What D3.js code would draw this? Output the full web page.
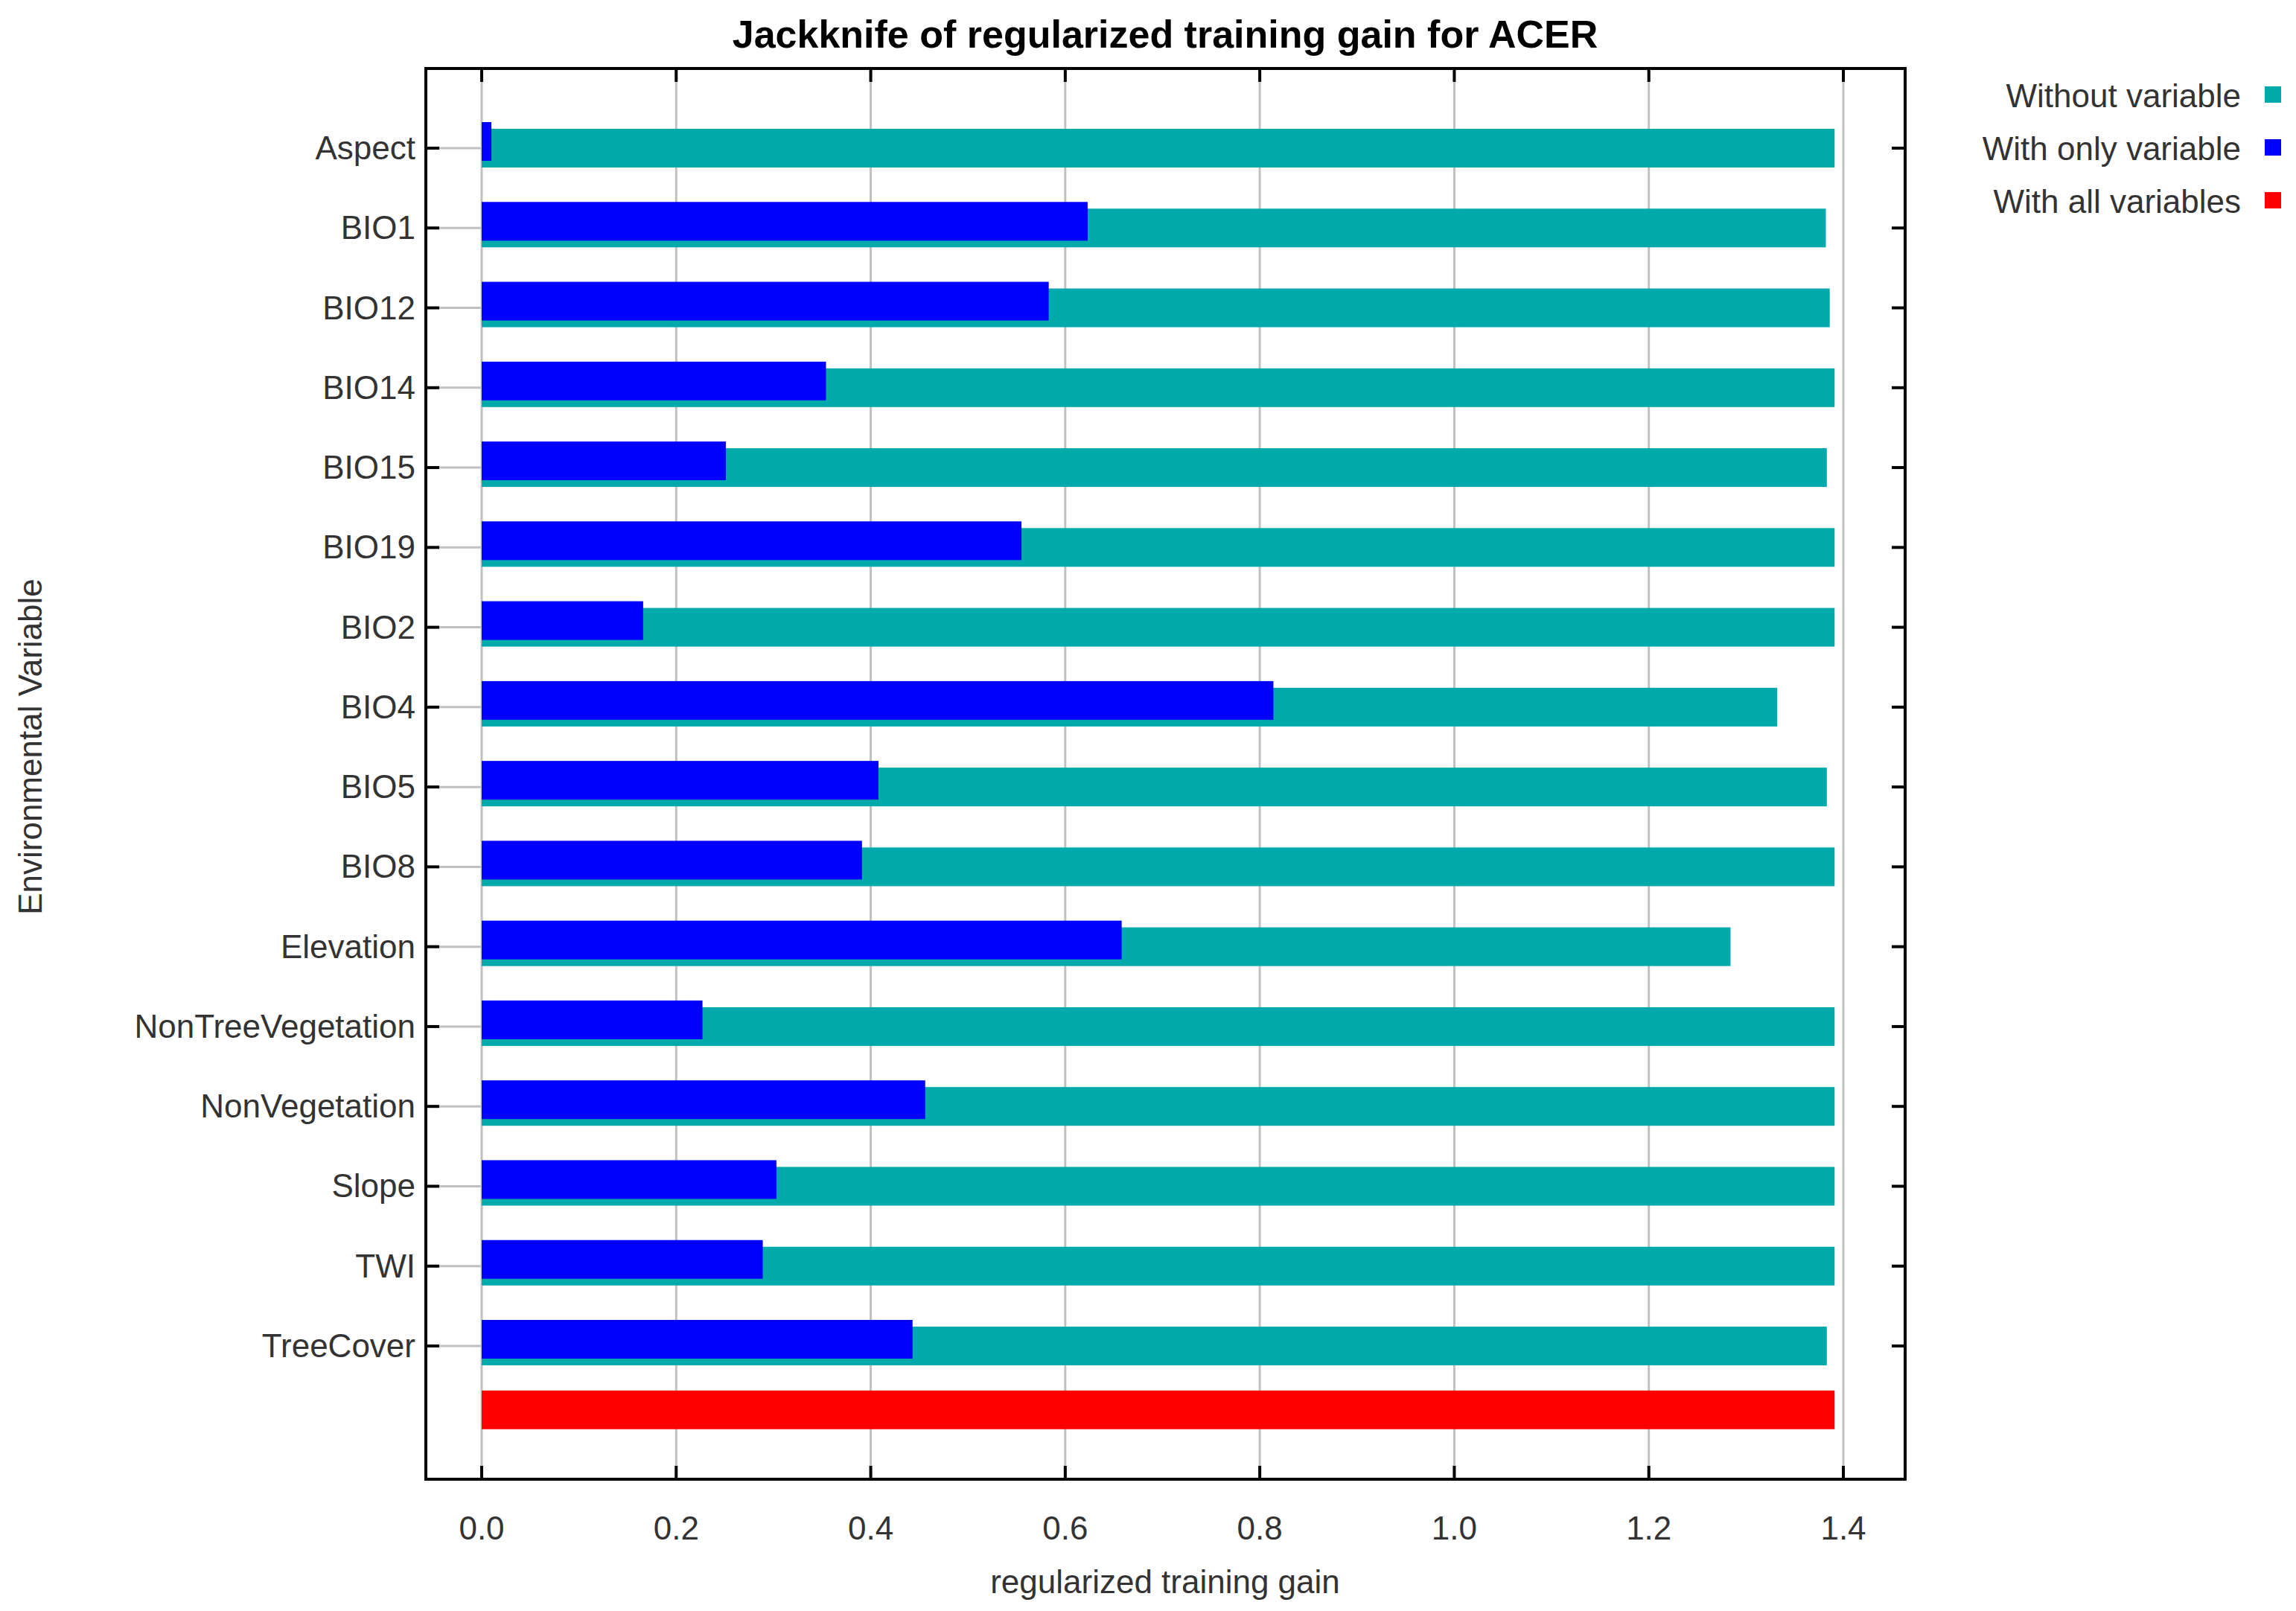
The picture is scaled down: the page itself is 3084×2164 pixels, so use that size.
<!DOCTYPE html>
<html>
<head>
<meta charset="utf-8">
<script src="https://cdn.jsdelivr.net/npm/d3@7"></script>
<style>
  body { margin: 0; background: #fff; }
  text { font-family: "Liberation Sans", Arial, sans-serif; }
</style>
</head>
<body>
<script>
// variables, top to bottom
const variables = ["Aspect", "BIO1", "BIO12", "BIO14", "BIO15", "BIO19", "BIO2", "BIO4",
    "BIO5", "BIO8", "Elevation", "NonTreeVegetation", "NonVegetation", "Slope", "TWI", "TreeCover"];
const withoutVariable = [1.391, 1.382, 1.386, 1.391, 1.383, 1.391, 1.391, 1.332,
    1.383, 1.391, 1.284, 1.391, 1.391, 1.391, 1.391, 1.383];
const withOnlyVariable = [0.010, 0.623, 0.583, 0.354, 0.251, 0.555, 0.166, 0.814,
    0.408, 0.391, 0.658, 0.227, 0.456, 0.303, 0.289, 0.443];
const withAllVariables = 1.391;
const xTicks = [0, 0.2, 0.4, 0.6, 0.8, 1.0, 1.2, 1.4];
const legendLabels = ["Without variable", "With only variable", "With all variables"];
const colors = ["#00aaaa", "#0000ff", "#ff0000"];

const width = 3084, height = 2164;
const frame = {left: 572, right: 2559, top: 92, bottom: 1987};

const svg = d3.select("body").append("svg")
    .attr("width", width).attr("height", height);

const x = d3.scaleLinear().domain([0, 1.4]).range([647, 2476]);
const y = d3.scalePoint().domain(variables).range([199, 1808]);
const step = y.step();
const barH = 52;

// grid lines
svg.append("g").selectAll("line").data(xTicks).join("line")
    .attr("x1", d => x(d)).attr("x2", d => x(d))
    .attr("y1", frame.top).attr("y2", frame.bottom)
    .attr("stroke", "#c0c0c0").attr("stroke-width", 3);
// gray lines from left/right frame to plot area
svg.append("g").selectAll("line").data(variables).join("line")
    .attr("x1", frame.left).attr("x2", x(0))
    .attr("y1", d => y(d)).attr("y2", d => y(d))
    .attr("stroke", "#c0c0c0").attr("stroke-width", 3);

// bars
svg.append("g").selectAll("rect").data(variables).join("rect")
    .attr("x", x(0)).attr("y", d => y(d) - barH / 2)
    .attr("width", (d, i) => x(withoutVariable[i]) - x(0)).attr("height", barH)
    .attr("fill", colors[0]);
svg.append("g").selectAll("rect").data(variables).join("rect")
    .attr("x", x(0)).attr("y", d => y(d) - barH / 2 - 9)
    .attr("width", (d, i) => x(withOnlyVariable[i]) - x(0)).attr("height", barH)
    .attr("fill", colors[1]);
svg.append("rect")
    .attr("x", x(0)).attr("y", y(variables[variables.length - 1]) + step * 0.8 - barH / 2)
    .attr("width", x(withAllVariables) - x(0)).attr("height", barH)
    .attr("fill", colors[2]);

// frame
svg.append("rect")
    .attr("x", frame.left).attr("y", frame.top)
    .attr("width", frame.right - frame.left).attr("height", frame.bottom - frame.top)
    .attr("fill", "none").attr("stroke", "#000").attr("stroke-width", 4);

// ticks
const tk = 18;
const tg = svg.append("g").attr("stroke", "#000").attr("stroke-width", 4);
tg.selectAll(".xb").data(xTicks).join("line")
    .attr("x1", d => x(d)).attr("x2", d => x(d)).attr("y1", frame.bottom).attr("y2", frame.bottom - tk);
tg.selectAll(".xt").data(xTicks).join("line")
    .attr("x1", d => x(d)).attr("x2", d => x(d)).attr("y1", frame.top).attr("y2", frame.top + tk);
tg.selectAll(".yl").data(variables).join("line")
    .attr("x1", frame.left).attr("x2", frame.left + tk).attr("y1", d => y(d)).attr("y2", d => y(d));
tg.selectAll(".yr").data(variables).join("line")
    .attr("x1", frame.right).attr("x2", frame.right - tk).attr("y1", d => y(d)).attr("y2", d => y(d));

// tick labels
svg.append("g").selectAll("text").data(xTicks).join("text")
    .attr("x", d => x(d)).attr("y", 2068)
    .attr("text-anchor", "middle").attr("font-size", 44).attr("fill", "#333")
    .text(d => d.toFixed(1));
svg.append("g").selectAll("text").data(variables).join("text")
    .attr("x", 558).attr("y", d => y(d) + 15)
    .attr("text-anchor", "end").attr("font-size", 44).attr("fill", "#333")
    .text(d => d);

// axis titles
svg.append("text").attr("x", 1565).attr("y", 2140).attr("text-anchor", "middle")
    .attr("font-size", 44).attr("fill", "#333").text("regularized training gain");
svg.append("text").attr("transform", "translate(56,1003) rotate(-90)")
    .attr("text-anchor", "middle").attr("font-size", 44).attr("fill", "#333")
    .text("Environmental Variable");
svg.append("text").attr("x", 1565).attr("y", 64).attr("text-anchor", "middle")
    .attr("font-size", 52).attr("font-weight", "bold").text("Jackknife of regularized training gain for ACER");

// legend
const lg = svg.append("g").selectAll("g").data(legendLabels).join("g")
    .attr("transform", (d, i) => `translate(0,${144 + i * 71})`);
lg.append("text").attr("x", 3010).attr("text-anchor", "end").attr("font-size", 44)
    .attr("fill", "#333").text(d => d);
lg.append("rect").attr("x", 3042).attr("y", -28).attr("width", 22).attr("height", 22)
    .attr("fill", (d, i) => colors[i]);
</script>
</body>
</html>
